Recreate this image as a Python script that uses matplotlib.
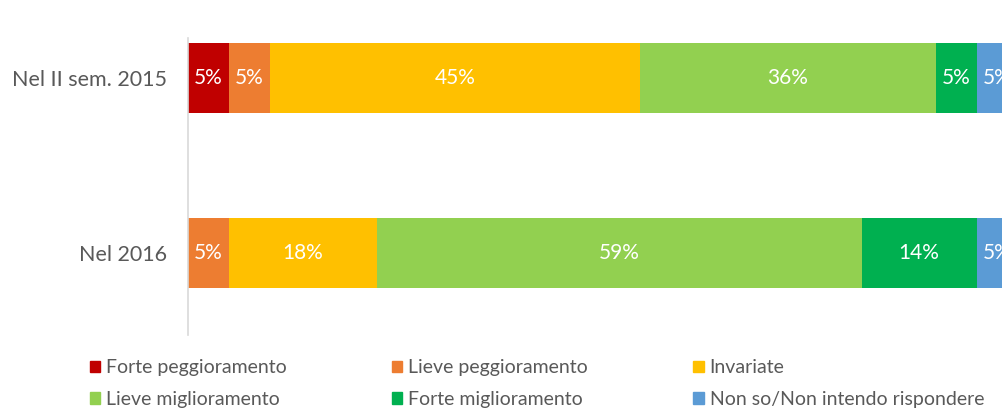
import numpy as np
import matplotlib.pyplot as plt
from matplotlib.patches import Patch

plt.rcParams['font.family'] = ['Lato', 'DejaVu Sans']

periods = ["Nel II sem. 2015", "Nel 2016"]
categories = ["Forte peggioramento", "Lieve peggioramento", "Invariate",
              "Lieve miglioramento", "Forte miglioramento", "Non so/Non intendo rispondere"]
colors = ["#C00000", "#ED7D31", "#FFC000", "#92D050", "#00B050", "#5B9BD5"]

# percentuali per periodo, stesso ordine di categories
sem2015 = [5, 5, 45, 36, 5, 5]
anno2016 = [0, 5, 18, 59, 14, 5]
values = np.array([sem2015, anno2016], dtype=float)

ypos = [1, 0]

fig = plt.figure(figsize=(10.03, 4.09), dpi=100)
ax = fig.add_axes([188/1003, 1 - 335/409, 1 - 188/1003, 297/409])

left = np.zeros(len(periods))
for j, cat in enumerate(categories):
    w = values[:, j]
    ax.barh(ypos, w, left=left, height=0.4, color=colors[j], label=cat)
    for i in range(len(periods)):
        if w[i] > 0:
            ax.text(left[i] + w[i] / 2, ypos[i], f"{w[i]:.0f}%",
                    ha="center", va="center", color="white", fontsize=15)
    left += w

ax.set_xlim(0, 99.2)
ax.set_ylim(-0.469, 1.229)
ax.set_yticks(ypos)
ax.set_yticklabels(periods, fontsize=15.5, color="#595959")
ax.tick_params(axis="y", length=0, pad=15)
ax.set_xticks([])
for s in ["top", "right", "bottom"]:
    ax.spines[s].set_visible(False)
ax.spines["left"].set_color("#d9d9d9")
ax.spines["left"].set_linewidth(1.2)

# legenda a 3 colonne, riempita per righe
order = [0, 3, 1, 4, 2, 5]
handles = [Patch(color=colors[k]) for k in order]
labels = [categories[k] for k in order]
fig.legend(handles, labels, ncol=3, loc="lower left", bbox_to_anchor=(72/1003, -0.04),
           frameon=False, fontsize=14, handlelength=0.55, handleheight=0.55,
           handletextpad=0.3, columnspacing=5.4, labelspacing=0.75,
           labelcolor="#595959")

fig.savefig("out.png", dpi=100)
